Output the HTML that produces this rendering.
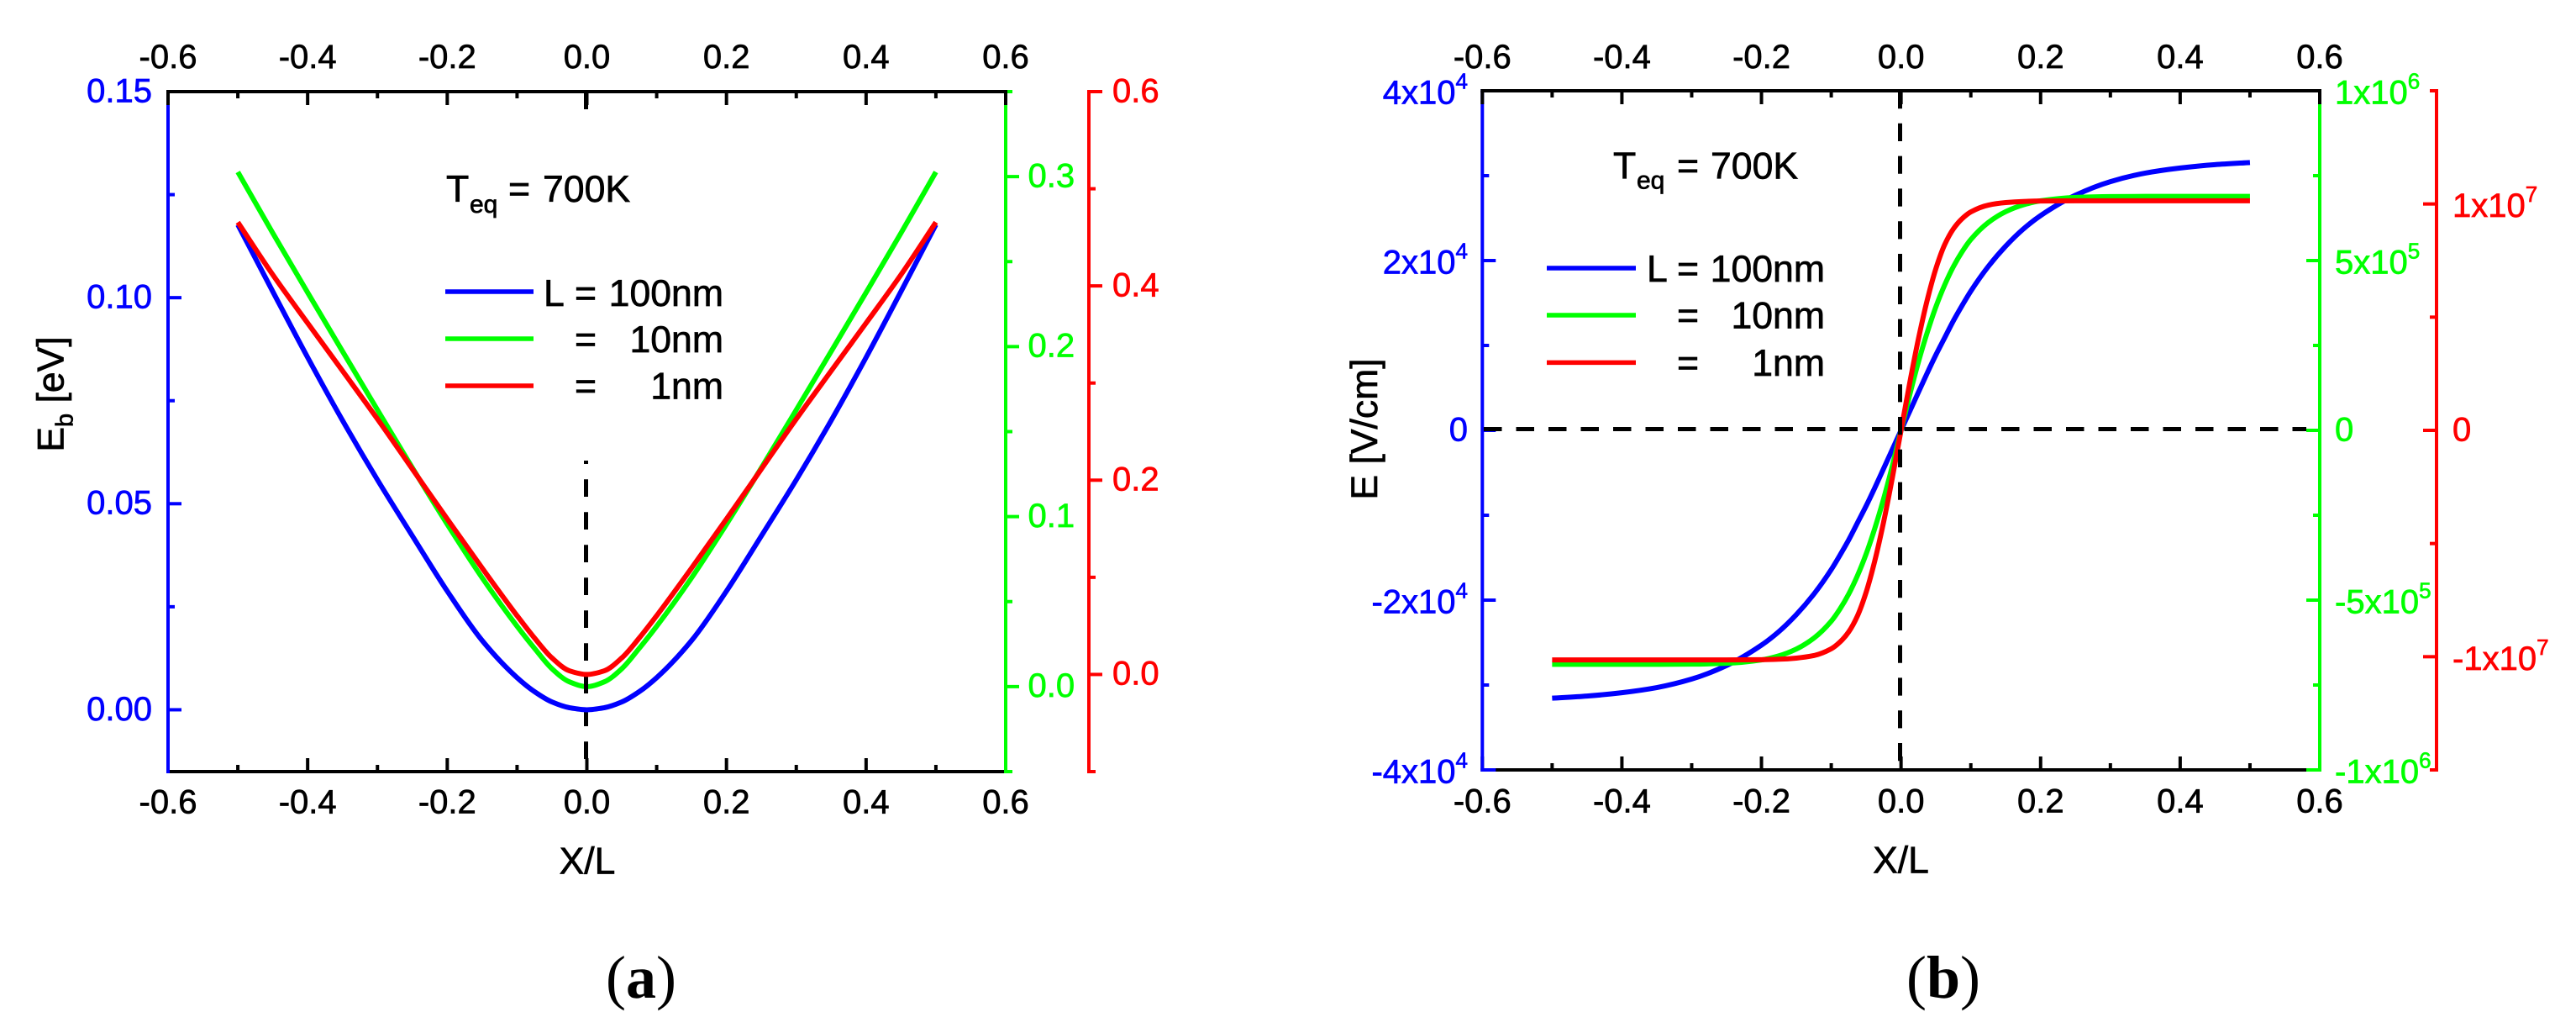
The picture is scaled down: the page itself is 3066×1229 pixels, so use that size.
<!DOCTYPE html>
<html lang="en">
<head>
<meta charset="utf-8">
<title>Barrier energy and electric field profiles at 700K</title>
<style>
  html, body { margin: 0; padding: 0; background: #fff; width: 3066px; height: 1229px; overflow: hidden; }
  svg { display: block; position: absolute; left: 0; top: 0; }
  text { font-family: "Liberation Sans", Arial, sans-serif; stroke-width: 0.7px; paint-order: stroke; }
  .leg { font-size: 44.6px; fill: #000; stroke: #000; }
  .sub { font-size: 30px; fill: #000; stroke: #000; }
  .ttl { font-size: 44.5px; fill: #000; stroke: #000; }
  .cap { font-family: "Liberation Serif", "Times New Roman", serif; font-size: 72px; fill: #000; stroke: none; }
</style>
</head>
<body>
<svg id="figure" xmlns="http://www.w3.org/2000/svg" width="3066" height="1229" viewBox="0 0 3066 1229">
  <rect x="0" y="0" width="3066" height="1229" fill="#fff"/>

  <g id="panel-a"></g>
  <g id="panel-b"></g>

  <!-- Panel (a) static text -->
  <text class="ttl" text-anchor="middle" transform="translate(75.5 469) rotate(-90)">E<tspan font-size="29" dy="11">b</tspan><tspan dy="-11"> [eV]</tspan></text>
  <text class="ttl" x="699" y="1039.5" text-anchor="middle">X/L</text>
  <text class="leg" x="531" y="240">T</text>
  <text class="sub" x="559" y="253">eq</text>
  <text class="leg" x="605" y="240">=</text>
  <text class="leg" x="646" y="240">700K</text>
  <text class="leg" x="647" y="364">L</text>
  <text class="leg" x="684" y="364">=</text>
  <text class="leg" x="861" y="364" text-anchor="end">100nm</text>
  <text class="leg" x="684" y="419">=</text>
  <text class="leg" x="861" y="419" text-anchor="end">10nm</text>
  <text class="leg" x="684" y="474.5">=</text>
  <text class="leg" x="861" y="474.5" text-anchor="end">1nm</text>
  <text class="cap" x="763" y="1187" text-anchor="middle">(<tspan font-weight="bold">a</tspan>)</text>

  <!-- Panel (b) static text -->
  <text class="ttl" text-anchor="middle" transform="translate(1639 510.5) rotate(-90)">E [V/cm]</text>
  <text class="ttl" x="2262.5" y="1038.5" text-anchor="middle">X/L</text>
  <text class="leg" x="1920" y="212.3">T</text>
  <text class="sub" x="1948" y="224.6">eq</text>
  <text class="leg" x="1996" y="212.3">=</text>
  <text class="leg" x="2036" y="212.3">700K</text>
  <text class="leg" x="1960" y="335">L</text>
  <text class="leg" x="1996" y="335">=</text>
  <text class="leg" x="2172" y="335" text-anchor="end">100nm</text>
  <text class="leg" x="1996" y="390.7">=</text>
  <text class="leg" x="2172" y="390.7" text-anchor="end">10nm</text>
  <text class="leg" x="1996" y="446.8">=</text>
  <text class="leg" x="2172" y="446.8" text-anchor="end">1nm</text>
  <text class="cap" x="2313" y="1187" text-anchor="middle">(<tspan font-weight="bold">b</tspan>)</text>
</svg>

<script>
// ---------- Shared X axis data ----------
const xMajorTicks = [-0.6, -0.4, -0.2, 0, 0.2, 0.4, 0.6];
const xMinorTicks = [-0.5, -0.3, -0.1, 0.1, 0.3, 0.5];
const xTickLabels = ['-0.6', '-0.4', '-0.2', '0.0', '0.2', '0.4', '0.6'];

// ---------- Panel (a): barrier energy ----------
const aX = [-0.5, -0.45, -0.4, -0.35, -0.3, -0.25, -0.2, -0.15, -0.1, -0.075, -0.05, -0.025, 0, 0.025, 0.05, 0.075, 0.1, 0.15, 0.2, 0.25, 0.3, 0.35, 0.4, 0.45, 0.5];
const aBlue = [0.1177, 0.1015, 0.0855, 0.0702, 0.0558, 0.0422, 0.0288, 0.0168, 0.0078, 0.0044, 0.0019, 0.0005, 0, 0.0005, 0.0019, 0.0044, 0.0078, 0.0168, 0.0288, 0.0422, 0.0558, 0.0702, 0.0855, 0.1015, 0.1177];
const aGreen = [0.3027, 0.2668, 0.2318, 0.1972, 0.1628, 0.1287, 0.0955, 0.064, 0.0355, 0.0225, 0.0105, 0.0028, 0, 0.0028, 0.0105, 0.0225, 0.0355, 0.064, 0.0955, 0.1287, 0.1628, 0.1972, 0.2318, 0.2668, 0.3027];
const aRed = [0.4655, 0.4115, 0.3617, 0.3125, 0.263, 0.2115, 0.16, 0.1095, 0.0605, 0.0375, 0.017, 0.0038, 0, 0.0038, 0.017, 0.0375, 0.0605, 0.1095, 0.16, 0.2115, 0.263, 0.3125, 0.3617, 0.4115, 0.4655];

const aBlueTicks = [0, 0.05, 0.1, 0.15];
const aBlueMinor = [0.025, 0.075, 0.125];
const aBlueLabels = ['0.00', '0.05', '0.10', '0.15'];
const aGreenTicks = [0, 0.1, 0.2, 0.3];
const aGreenMinor = [-0.05, 0.05, 0.15, 0.25, 0.35];
const aGreenLabels = ['0.0', '0.1', '0.2', '0.3'];
const aRedTicks = [0, 0.2, 0.4, 0.6];
const aRedMinor = [-0.1, 0.1, 0.3, 0.5];
const aRedLabels = ['0.0', '0.2', '0.4', '0.6'];

// ---------- Panel (b): electric field ----------
const bX = [-0.5, -0.45, -0.4, -0.35, -0.3, -0.25, -0.2, -0.175, -0.15, -0.125, -0.1, -0.0875, -0.075, -0.0625, -0.05, -0.0375, -0.025, -0.0125, 0, 0.0125, 0.025, 0.0375, 0.05, 0.0625, 0.075, 0.0875, 0.1, 0.125, 0.15, 0.175, 0.2, 0.25, 0.3, 0.35, 0.4, 0.45, 0.5];
const bBlue = [-31550, -31300, -30900, -30300, -29300, -27700, -25300, -23700, -21700, -19300, -16400, -14700, -12900, -10900, -8900, -6750, -4500, -2250, 0, 2250, 4500, 6750, 8900, 10900, 12900, 14700, 16400, 19300, 21700, 23700, 25300, 27700, 29300, 30300, 30900, 31300, 31550];
const bGreen = [-689000, -689000, -689000, -689000, -688500, -686000, -676000, -664000, -644000, -612000, -562000, -526000, -482000, -428000, -364000, -288000, -202000, -105000, 0, 105000, 202000, 288000, 364000, 428000, 482000, 526000, 562000, 612000, 644000, 664000, 676000, 686000, 688500, 689000, 689000, 689000, 689000];
const bRed = [-10140000, -10140000, -10140000, -10140000, -10140000, -10140000, -10130000, -10110000, -10060000, -9950000, -9650000, -9350000, -8900000, -8200000, -7150000, -5750000, -4050000, -2100000, 0, 2100000, 4050000, 5750000, 7150000, 8200000, 8900000, 9350000, 9650000, 9950000, 10060000, 10110000, 10130000, 10140000, 10140000, 10140000, 10140000, 10140000, 10140000];

const bBlueTicks = [-40000, -20000, 0, 20000, 40000];
const bBlueMinor = [-30000, -10000, 10000, 30000];
const bBlueLabels = ['-4x10^4', '-2x10^4', '0', '2x10^4', '4x10^4'];
const bGreenTicks = [-1000000, -500000, 0, 500000, 1000000];
const bGreenMinor = [-750000, -250000, 250000, 750000];
const bGreenLabels = ['-1x10^6', '-5x10^5', '0', '5x10^5', '1x10^6'];
const bRedTicks = [-10000000, 0, 10000000];
const bRedMinor = [-15000000, -5000000, 5000000, 15000000];
const bRedLabels = ['-1x10^7', '0', '1x10^7'];

// ---------- Drawing helpers ----------
const SVGNS = 'http://www.w3.org/2000/svg';
const AXIS_W = 4;
const MAJOR = 16;
const MINOR = 8;
const FONT = 40;

function line(parent, x1, y1, x2, y2, color, name, width, dash) {
  const el = document.createElementNS(SVGNS, 'line');
  el.setAttribute('x1', x1);
  el.setAttribute('y1', y1);
  el.setAttribute('x2', x2);
  el.setAttribute('y2', y2);
  el.setAttribute('stroke', color);
  el.setAttribute('stroke-width', width || AXIS_W);
  if (dash) el.setAttribute('stroke-dasharray', dash);
  
  
  parent.appendChild(el);
  return el;
}

function label(parent, x, y, str, color, anchor, name) {
  const el = document.createElementNS(SVGNS, 'text');
  el.setAttribute('x', x);
  el.setAttribute('y', y);
  el.setAttribute('fill', color);
  el.setAttribute('stroke', color);
  el.setAttribute('font-size', FONT);
  el.setAttribute('text-anchor', anchor);
  
  
  const parts = String(str).split('^');
  el.appendChild(document.createTextNode(parts[0]));
  if (parts[1]) {
    const sup = document.createElementNS(SVGNS, 'tspan');
    sup.setAttribute('font-size', 26);
    sup.setAttribute('dy', -18);
    sup.textContent = parts[1];
    el.appendChild(sup);
  }
  parent.appendChild(el);
  return el;
}

function linear(d0, d1, r0, r1) {
  return function (v) { return r0 + (v - d0) / (d1 - d0) * (r1 - r0); };
}

function monotonePath(px, py) {
  const n = px.length;
  const dx = [], s = [], m = [];
  for (let i = 0; i < n - 1; i++) {
    dx.push(px[i + 1] - px[i]);
    s.push((py[i + 1] - py[i]) / dx[i]);
  }
  m.push(s[0]);
  for (let i = 1; i < n - 1; i++) {
    if (s[i - 1] * s[i] <= 0) { m.push(0); }
    else {
      const w1 = 2 * dx[i] + dx[i - 1], w2 = dx[i] + 2 * dx[i - 1];
      m.push((w1 + w2) / (w1 / s[i - 1] + w2 / s[i]));
    }
  }
  m.push(s[n - 2]);
  let d = 'M' + px[0].toFixed(2) + ' ' + py[0].toFixed(2);
  for (let i = 0; i < n - 1; i++) {
    const h = dx[i] / 3;
    d += 'C' + (px[i] + h).toFixed(2) + ' ' + (py[i] + m[i] * h).toFixed(2) + ' ' +
         (px[i + 1] - h).toFixed(2) + ' ' + (py[i + 1] - m[i + 1] * h).toFixed(2) + ' ' +
         px[i + 1].toFixed(2) + ' ' + py[i + 1].toFixed(2);
  }
  return d;
}

function curve(parent, xs, ys, sx, sy, color, name) {
  const el = document.createElementNS(SVGNS, 'path');
  el.setAttribute('d', monotonePath(xs.map(sx), ys.map(sy)));
  el.setAttribute('fill', 'none');
  el.setAttribute('stroke', color);
  el.setAttribute('stroke-width', 6);
  el.setAttribute('stroke-linejoin', 'round');
  
  
  parent.appendChild(el);
  return el;
}

function xAxis(parent, sx, y, dir, baseline, pos, left, right) {
  line(parent, left - 2, y, right + 2, y, '#000', pos + '-x-axis-line');
  xMajorTicks.forEach(function (v, i) {
    line(parent, sx(v), y, sx(v), y + dir * MAJOR, '#000', pos + '-x-major-tick');
    label(parent, sx(v), baseline, xTickLabels[i], '#000', 'middle', pos + '-x-tick-label');
  });
  xMinorTicks.forEach(function (v) {
    line(parent, sx(v), y, sx(v), y + dir * MINOR, '#000', pos + '-x-minor-tick');
  });
}

function yAxis(parent, x, top, bottom, sy, ticks, minors, labels, color, dir, labelX, anchor, prefix) {
  line(parent, x, top - 2, x, bottom + 2, color, prefix + '-axis-line');
  ticks.forEach(function (v, i) {
    line(parent, x, sy(v), x + dir * MAJOR, sy(v), color, prefix + '-major-tick');
    const off = labels[i].indexOf('^') >= 0 ? 15.5 : 12.3;
    label(parent, labelX, sy(v) + off, labels[i], color, anchor, prefix + '-tick-label');
  });
  minors.forEach(function (v) {
    line(parent, x, sy(v), x + dir * MINOR, sy(v), color, prefix + '-minor-tick');
  });
}

// ---------- Panel (a) ----------
(function () {
  const g = document.getElementById('panel-a');
  const L = 200, R = 1197, T = 109, B = 918;
  const sx = linear(-0.6, 0.6, L, R);
  const syBlue = linear(-0.015, 0.15, B, T);
  const syGreen = linear(-0.05, 0.35, B, T);
  const syRed = linear(-0.1, 0.6, B, T);

  xAxis(g, sx, B, -1, 967.5, 'bottom', L, R);
  yAxis(g, L, T, B, syBlue, aBlueTicks, aBlueMinor, aBlueLabels, '#0000ff', 1, 181, 'end', 'blue-y');
  yAxis(g, R, T, B, syGreen, aGreenTicks, aGreenMinor, aGreenLabels, '#00ff00', 1, 1223.5, 'start', 'green-y');
  yAxis(g, 1296, T, B, syRed, aRedTicks, aRedMinor, aRedLabels, '#ff0000', 1, 1324, 'start', 'red-y');
  xAxis(g, sx, T, 1, 81, 'top', L, R);
  line(g, 697.5, T, 697.5, 130, '#000', 'top-center-tick', 5);

  curve(g, aX, aGreen, sx, syGreen, '#00ff00', 'curve-10nm-a');
  line(g, 697.5, 903, 697.5, 548, '#000', 'center-dashed-line-a', 5, '20.7 18.3');
  curve(g, aX, aBlue, sx, syBlue, '#0000ff', 'curve-100nm-a');
  curve(g, aX, aRed, sx, syRed, '#ff0000', 'curve-1nm-a');

  line(g, 530, 347, 635, 347, '#0000ff', 'legend-line-100nm-a', 5.5);
  line(g, 530, 403, 635, 403, '#00ff00', 'legend-line-10nm-a', 5.5);
  line(g, 530, 459, 635, 459, '#ff0000', 'legend-line-1nm-a', 5.5);
})();

// ---------- Panel (b) ----------
(function () {
  const g = document.getElementById('panel-b');
  const L = 1764.3, R = 2761, T = 108, B = 916;
  const sx = linear(-0.6, 0.6, L, R);
  const syBlue = linear(-40000, 40000, B, T);
  const syGreen = linear(-1000000, 1000000, B, T);
  const syRed = linear(-15000000, 15000000, B, T);

  xAxis(g, sx, B, -1, 966.5, 'bottom', L, R);
  yAxis(g, L, T, B, syBlue, bBlueTicks, bBlueMinor, bBlueLabels, '#0000ff', 1, 1747, 'end', 'blue-y');
  yAxis(g, R, T, B, syGreen, bGreenTicks, bGreenMinor, bGreenLabels, '#00ff00', -1, 2779, 'start', 'green-y');
  yAxis(g, 2900, T, B, syRed, bRedTicks, bRedMinor, bRedLabels, '#ff0000', -1, 2919, 'start', 'red-y');
  xAxis(g, sx, T, 1, 81, 'top', L, R);

  curve(g, bX, bBlue, sx, syBlue, '#0000ff', 'curve-100nm-b');
  curve(g, bX, bGreen, sx, syGreen, '#00ff00', 'curve-10nm-b');
  curve(g, bX, bRed, sx, syRed, '#ff0000', 'curve-1nm-b');

  line(g, 2261.5, T, 2261.5, B, '#000', 'vertical-dashed-line-b', 5, '21.2 17.6');
  line(g, 1766, 510.5, 2745, 510.5, '#000', 'horizontal-dashed-line-b', 5, '21.5 17');

  line(g, 1841, 319, 1947, 319, '#0000ff', 'legend-line-100nm-b', 5.5);
  line(g, 1841, 375, 1947, 375, '#00ff00', 'legend-line-10nm-b', 5.5);
  line(g, 1841, 431.4, 1947, 431.4, '#ff0000', 'legend-line-1nm-b', 5.5);
})();
</script>
</body>
</html>
